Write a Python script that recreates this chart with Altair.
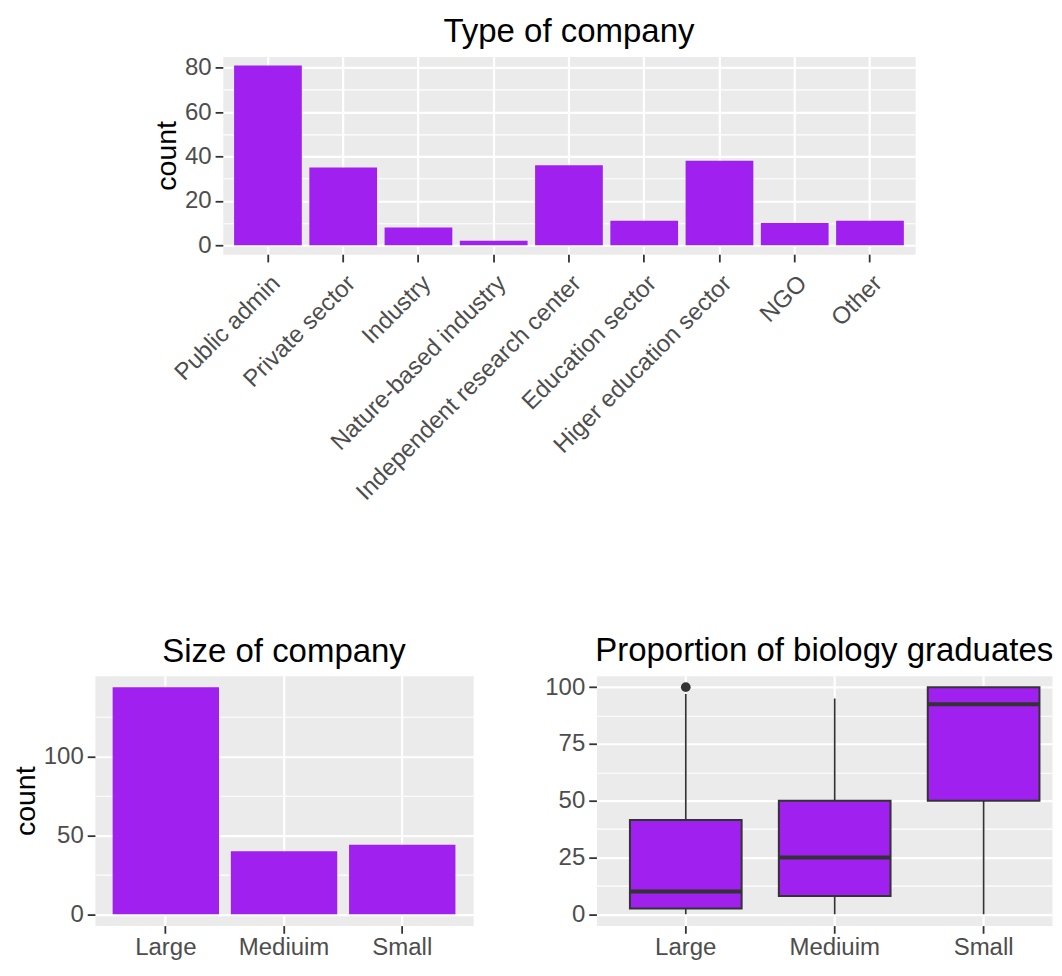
import altair as alt
import pandas as pd

# ---------------- data ----------------
type_categories = ["Public admin", "Private sector", "Industry", "Nature-based industry",
                   "Independent research center", "Education sector",
                   "Higer education sector", "NGO", "Other"]
type_counts = [81, 35, 8, 2, 36, 11, 38, 10, 11]

size_categories = ["Large", "Mediuim", "Small"]
size_counts = [144, 40, 44]

box_groups = ["Large", "Mediuim", "Small"]
box_lower = [0, 0, 0]
box_q1 = [2.5, 8, 50]
box_median = [10, 25, 92.5]
box_q3 = [41.5, 50, 100]
box_upper = [97, 95, 100]
outlier_groups = ["Large"]
outlier_values = [100]

# ---------------- style ----------------
FONT = "Liberation Sans"
PURPLE = "#A020F0"
PANEL = "#EBEBEB"
DARK = "#333333"
MINOR_W = 1.1
BOTTOM_H = 250


def minor_axis(vals):
    return alt.Axis(values=vals, grid=True, gridWidth=MINOR_W, labels=False, ticks=False,
                    domain=False, title=None, orient="right")


# ---------------- top: type of company ----------------
top_df = pd.DataFrame({"type": type_categories, "count": type_counts})
tmax = max(type_counts)
top_scale = alt.Scale(domain=[-0.05 * tmax, 1.05 * tmax], nice=False, zero=False)
top_x = alt.X("type:N", sort=type_categories,
              scale=alt.Scale(paddingInner=0.1, paddingOuter=0.15),
              axis=alt.Axis(title=None, labelAngle=-45, labelAlign="right", labelBaseline="top",
                            grid=True, bandPosition=0.5, labelPadding=9, labelLimit=0))
top_bars = alt.Chart(top_df).mark_bar(color=PURPLE).encode(
    x=top_x,
    y=alt.Y("count:Q", scale=top_scale, axis=alt.Axis(values=[0, 20, 40, 60, 80], title="count", grid=True)),
)
top_minor = alt.Chart(top_df).mark_bar(opacity=0).encode(
    x=top_x,
    y=alt.Y("count:Q", scale=top_scale, axis=minor_axis([10, 30, 50, 70])),
)
top_chart = alt.layer(top_bars, top_minor).resolve_axis(y="independent").properties(
    width=693, height=198, title="Type of company")

spacer = alt.Chart(pd.DataFrame({"a": [0]})).mark_point(opacity=0).properties(
    width=56, height=1, view=alt.ViewBackground(fill="transparent", stroke="transparent"))

# ---------------- bottom left: size of company ----------------
size_df = pd.DataFrame({"size": size_categories, "count": size_counts})
smax = max(size_counts)
size_scale = alt.Scale(domain=[-0.05 * smax, 1.05 * smax], nice=False, zero=False)
size_x = alt.X("size:N", sort=size_categories,
               scale=alt.Scale(paddingInner=0.1, paddingOuter=0.15),
               axis=alt.Axis(title=None, labelAngle=0, grid=True, bandPosition=0.5, labelPadding=2))
size_bars = alt.Chart(size_df).mark_bar(color=PURPLE).encode(
    x=size_x,
    y=alt.Y("count:Q", scale=size_scale, axis=alt.Axis(values=[0, 50, 100], title="count", grid=True)),
)
size_minor = alt.Chart(size_df).mark_bar(opacity=0).encode(
    x=size_x,
    y=alt.Y("count:Q", scale=size_scale, axis=minor_axis([25, 75, 125])),
)
size_chart = alt.layer(size_bars, size_minor).resolve_axis(y="independent").properties(
    width=378.6, height=BOTTOM_H, title="Size of company")

# ---------------- bottom right: proportion boxplot ----------------
box_df = pd.DataFrame({"group": box_groups, "lower": box_lower, "q1": box_q1,
                       "median": box_median, "q3": box_q3, "upper": box_upper})
out_df = pd.DataFrame({"group": outlier_groups, "value": outlier_values})
box_scale = alt.Scale(domain=[-5, 105], nice=False, zero=False)
# panel is cut at the right edge, as in the original figure: band scale aligned left
box_x = alt.X("group:N", sort=box_groups,
              scale=alt.Scale(paddingInner=0.25, paddingOuter=0.1546, align=0.7275),
              axis=alt.Axis(title=None, labelAngle=0, grid=True, bandPosition=0.5, labelPadding=2))
main_y_axis = alt.Axis(values=[0, 25, 50, 75, 100], title=None, grid=True)

base = alt.Chart(box_df)
w_low = base.mark_rule(color=DARK, strokeWidth=1.7).encode(
    x=box_x, y=alt.Y("lower:Q", scale=box_scale, axis=main_y_axis), y2="q1:Q")
w_up = base.mark_rule(color=DARK, strokeWidth=1.7).encode(
    x=box_x, y=alt.Y("q3:Q", scale=box_scale, axis=main_y_axis), y2="upper:Q")
box = base.mark_bar(fill=PURPLE, stroke=DARK, strokeWidth=2).encode(
    x=box_x, y=alt.Y("q1:Q", scale=box_scale, axis=main_y_axis), y2="q3:Q")
med = base.mark_bar(fill=DARK, stroke=DARK, strokeWidth=4).encode(
    x=box_x, y=alt.Y("median:Q", scale=box_scale, axis=main_y_axis), y2="median:Q")
outl = alt.Chart(out_df).mark_circle(color=DARK, opacity=1, size=95).encode(
    x=box_x, y=alt.Y("value:Q", scale=box_scale, axis=main_y_axis))
box_minor = base.mark_bar(opacity=0).encode(
    x=box_x, y=alt.Y("q1:Q", scale=box_scale, axis=minor_axis([12.5, 37.5, 62.5, 87.5])))
box_main = alt.layer(w_low, w_up, box, med, outl)
box_chart = alt.layer(box_main, box_minor).resolve_axis(y="independent").properties(
    width=456, height=BOTTOM_H, title="Proportion of biology graduates")

# ---------------- layout ----------------
row1 = alt.hconcat(spacer, top_chart, spacing=0)
row2 = alt.hconcat(size_chart, box_chart, spacing=69)
chart = alt.vconcat(row1, row2, spacing=128).properties(
    padding={"left": 2, "top": 6, "right": 0, "bottom": 0}
).configure_axis(
    domain=False, tickColor=DARK, tickSize=7.7, tickWidth=1.8,
    labelColor="#4D4D4D", labelFont=FONT, labelFontSize=24, labelPadding=4,
    titleFont=FONT, titleFontSize=28.5, titleColor="black", titleFontWeight="normal",
    titlePadding=3, gridColor="white", gridWidth=2.2,
).configure_view(fill=PANEL, stroke="transparent").configure_title(
    font=FONT, fontSize=33, fontWeight="normal", color="black", anchor="middle",
    frame="group", offset=7,
)

chart.save("out.html", embed_options={"renderer": "svg", "actions": False})
